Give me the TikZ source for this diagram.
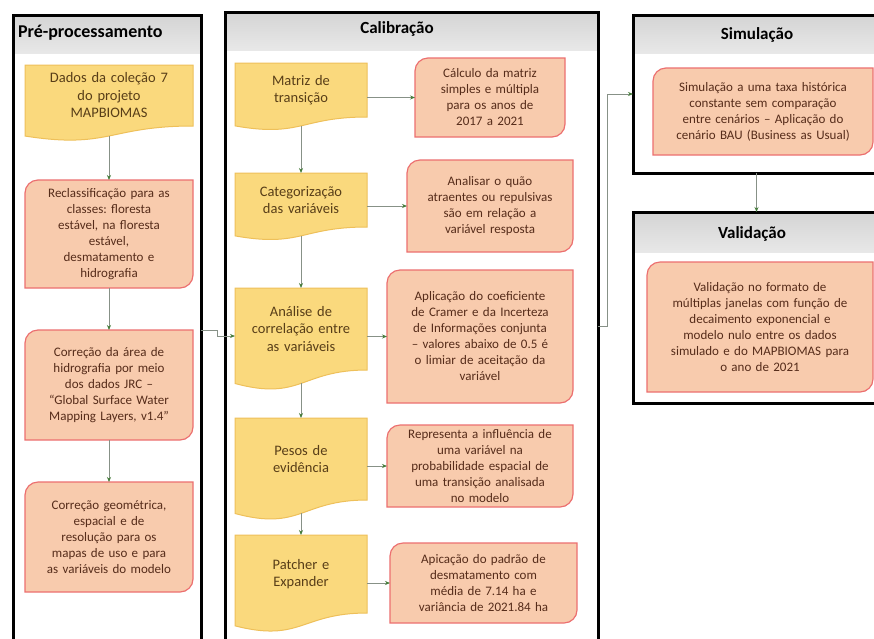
\documentclass[tikz,border=0pt]{standalone}
\usepackage{fontspec}
\setmainfont{Carlito}
\frenchspacing
\usetikzlibrary{calc,arrows.meta}
\pgfdeclarelayer{back}\pgfdeclarelayer{mid}\pgfsetlayers{back,mid,main}
\definecolor{docfill}{RGB}{250,217,125}
\definecolor{docline}{RGB}{238,192,90}
\definecolor{salfill}{RGB}{248,203,173}
\definecolor{salline}{RGB}{236,112,112}
\definecolor{doctxt}{RGB}{88,62,24}
\definecolor{saltxt}{RGB}{86,44,26}
\definecolor{hdrtop}{RGB}{212,212,212}
\definecolor{hdrbot}{RGB}{232,232,232}
\definecolor{connline}{RGB}{135,145,135}
\definecolor{arrowgreen}{RGB}{70,125,60}
\tikzset{
  blank/.style={draw=none,fill=none,inner sep=0pt,outer sep=0pt},
  doctext/.style={blank,align=center,text=doctxt,font=\fontsize{14.5}{17.5}\selectfont},
  saltext/.style={blank,align=center,text=saltxt,font=\fontsize{13}{16}\selectfont},
  titletext/.style={blank,font=\bfseries\fontsize{17}{20}\selectfont,text=black},
  docshape/.style={fill=docfill,draw=docline,line width=1pt},
  salshape/.style={fill=salfill,draw=salline,line width=1.2pt},
  panelborder/.style={draw=black,line width=3pt},
  conn/.style={draw=connline,line width=0.8pt,-{Stealth[length=5pt,width=4pt,color=arrowgreen]}},
}
% panel: name, x1, y1, x2, y2, header height
\newcommand\panelbox[6]{%
  \pgfmathsetmacro\mycx{(#2+#4)/2}\pgfmathsetmacro\mycy{-(#3+#5)/2}%
  \pgfmathsetmacro\myw{#4-#2}\pgfmathsetmacro\myh{#5-#3}%
  \node[blank,minimum width=\myw pt,minimum height=\myh pt] (#1) at (\mycx,\mycy) {};
  \begin{pgfonlayer}{back}
    \fill[white] (#1.north west) rectangle (#1.south east);
    \shade[top color=hdrtop,bottom color=hdrbot] (#1.north west) rectangle ($(#1.north east)+(0,-#6pt)$);
    \draw[panelborder] (#1.north west) rectangle (#1.south east);
  \end{pgfonlayer}}
% document shape: name, x1, ytop, x2, yright, text
\newcommand\docbox[6]{%
  \pgfmathsetmacro\mycx{(#2+#4)/2}\pgfmathsetmacro\mycy{-(#3+#5)/2}%
  \pgfmathsetmacro\myw{#4-#2}\pgfmathsetmacro\myh{#5-#3}\pgfmathsetmacro\mytw{#4-#2-6}%
  \node[doctext,minimum width=\myw pt,minimum height=\myh pt,text width=\mytw pt] (#1) at (\mycx,\mycy) {#6};
  \coordinate (#1-b) at ($(#1.north)!1.163!(#1.south)$);
  \begin{pgfonlayer}{mid}
    \path[docshape] (#1.north west) -- (#1.north east) -- (#1.south east)
      .. controls (#1.south) and ($(#1.north)!1.381!(#1.south)$) ..
      ($(#1.north west)!1.1646!(#1.south west)$) -- cycle;
  \end{pgfonlayer}}
% salmon box: name, x1, y1, x2, y2, text
\newcommand\salbox[6]{%
  \pgfmathsetmacro\mycx{(#2+#4)/2}\pgfmathsetmacro\mycy{-(#3+#5)/2}%
  \pgfmathsetmacro\myw{#4-#2}\pgfmathsetmacro\myh{#5-#3}\pgfmathsetmacro\mytw{#4-#2-6}%
  \node[saltext,minimum width=\myw pt,minimum height=\myh pt,text width=\mytw pt] (#1) at (\mycx,\mycy) {#6};
  \begin{pgfonlayer}{mid}
    \path[salshape] ($(#1.north west)+(0,-13pt)$) arc[start angle=180,end angle=90,radius=13pt]
      -- (#1.north east) -- ($(#1.south east)+(0,13pt)$) arc[start angle=0,end angle=-90,radius=13pt]
      -- (#1.south west) -- cycle;
  \end{pgfonlayer}}
\begin{document}
\begin{tikzpicture}[x=1pt,y=1pt]
\useasboundingbox (0,0) rectangle (874,-638);
% panels
\panelbox{P1}{13}{15}{201}{645}{38}
\panelbox{P2}{225}{12}{598}{640}{38}
\panelbox{P3}{633}{15}{880}{173}{38}
\panelbox{P4}{633}{212}{880}{403}{40}
\node[titletext,anchor=west,font=\bfseries\fontsize{18}{20}\selectfont] (t1) at (18,-33) {Pré-processamento};
\node[titletext] (t2) at (397,-29) {Calibração};
\node[titletext] (t3) at (757,-35) {Simulação};
\node[titletext] (t4) at (752,-234) {Validação};
% pre-processing
\docbox{d0}{25}{65}{193}{126}{Dados da coleção 7\\do projeto\\MAPBIOMAS}
\salbox{r1}{25}{180}{193}{288}{Reclassificação para as\\classes: floresta\\estável, na floresta\\estável,\\desmatamento e\\hidrografia}
\salbox{r2}{25}{330}{193}{440}{Correção da área de\\hidrografia por meio\\dos dados JRC –\\“Global Surface Water\\Mapping Layers, v1.4”}
\salbox{r3}{25}{482}{193}{592}{Correção geométrica,\\espacial e de\\resolução para os\\mapas de uso e para\\as variáveis do modelo}
% calibration
\docbox{c1}{235}{63}{367}{117}{Matriz de\\transição}
\docbox{c2}{235}{173}{367}{227}{Categorização\\das variáveis}
\docbox{c3}{235}{288}{367}{370}{Análise de\\correlação entre\\as variáveis}
\docbox{c4}{235}{418}{367}{500}{Pesos de\\evidência}
\docbox{c5}{235}{535}{367}{613}{Patcher e\\Expander}
\salbox{s1}{415}{58}{565}{137}{Cálculo da matriz\\simples e múltipla\\para os anos de\\2017 a 2021}
\salbox{s2}{407}{160}{573}{252}{Analisar o quão\\atraentes ou repulsivas\\são em relação a\\variável resposta}
\salbox{s3}{387}{270}{573}{403}{Aplicação do coeficiente\\de Cramer e da Incerteza\\de Informações conjunta\\– valores abaixo de 0.5 é\\o limiar de aceitação da\\variável}
\salbox{s4}{387}{425}{573}{507}{Representa a influência de\\uma variável na\\probabilidade espacial de\\uma transição analisada\\no modelo}
\salbox{s5}{390}{543}{577}{623}{Apicação do padrão de\\desmatamento com\\média de 7.14 ha e\\variância de 2021.84 ha}
% simulation / validation
\salbox{sim}{653}{68}{873}{155}{Simulação a uma taxa histórica\\constante sem comparação\\entre cenários – Aplicação do\\cenário BAU (Business as Usual)}
\salbox{val}{647}{262}{873}{392}{Validação no formato de\\múltiplas janelas com função de\\decaimento exponencial e\\modelo nulo entre os dados\\simulado e do MAPBIOMAS para\\o ano de 2021}
% connectors
\draw[conn] (d0-b) -- (r1.north);
\draw[conn] (r1.south) -- (r2.north);
\draw[conn] (r2.south) -- (r3.north);
\draw[conn] (c1-b) -- (c2.north);
\draw[conn] (c2-b) -- (c3.north);
\draw[conn] (c3-b) -- (c4.north);
\draw[conn] (c4-b) -- (c5.north);
\draw[conn] (s1.west -| c1.east) -- (s1.west);
\draw[conn] (s2.west -| c2.east) -- (s2.west);
\draw[conn] (s3.west -| c3.east) -- (s3.west);
\draw[conn] (s4.west -| c4.east) -- (s4.west);
\draw[conn] (s5.west -| c5.east) -- (s5.west);
\draw[conn] (P1.east) -- ++(16,0) |- ($(c3.west)+(0,-7)$);
\draw[conn] (P2.east) -- ++(9,0) |- (P3.west);
\draw[conn] (P3.south) -- (P4.north);
\end{tikzpicture}
\end{document}
